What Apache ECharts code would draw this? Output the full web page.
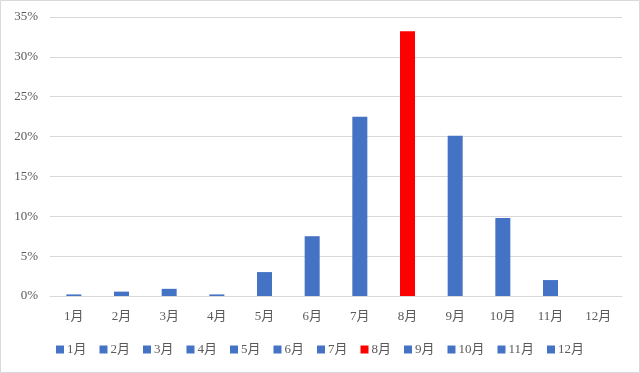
<!DOCTYPE html>
<html><head><meta charset="utf-8">
<script src="https://cdn.jsdelivr.net/npm/echarts@6/dist/echarts.min.js"></script>
<style>html,body{margin:0;padding:0;background:#fff}#c{width:640px;height:373px}</style>
</head><body><div id="c"></div>
<script>
const months = ['1月','2月','3月','4月','5月','6月','7月','8月','9月','10月','11月','12月'];
const values = [0.2, 0.55, 0.9, 0.2, 3.0, 7.5, 22.5, 33.2, 20.1, 9.8, 2.0, 0];
const colors = ['#4472C4','#4472C4','#4472C4','#4472C4','#4472C4','#4472C4','#4472C4','#FF0000','#4472C4','#4472C4','#4472C4','#4472C4'];
const yTicks = [0,5,10,15,20,25,30,35];
const font = "'Liberation Serif','Noto Sans CJK JP',serif";
const chart = echarts.init(document.getElementById('c'));
const series = months.map((m,i)=>({
  name:m, type:'bar', stack:'all', barWidth:15,
  itemStyle:{color:colors[i]},
  data: months.map((_,j)=> j===i ? values[i] : null)
}));
chart.setOption({
  animation:false,
  textStyle:{fontFamily:font},
  graphic:[{type:'rect',shape:{x:0.5,y:0.5,width:639,height:372},style:{fill:'none',stroke:'#D9D9D9',lineWidth:1},silent:true}],
  grid:{left:50,right:18,top:17,bottom:77},
  legend:{bottom:12,left:'center',icon:'rect',itemWidth:8,itemHeight:8,itemGap:13,
    textStyle:{fontFamily:font,fontSize:13,color:'#595959',padding:[0,0,0,-2]},data:months},
  xAxis:{type:'category',data:months,
    axisLine:{lineStyle:{color:'#D9D9D9'}},axisTick:{show:false},
    axisLabel:{fontFamily:font,fontSize:13,color:'#595959',margin:14}},
  yAxis:{type:'value',min:0,max:35,interval:5,
    axisLabel:{formatter:v=>v+'%',fontFamily:font,fontSize:13,color:'#595959',margin:12},
    splitLine:{lineStyle:{color:'#D9D9D9'}},axisLine:{show:false},axisTick:{show:false}},
  series
});
</script></body></html>
